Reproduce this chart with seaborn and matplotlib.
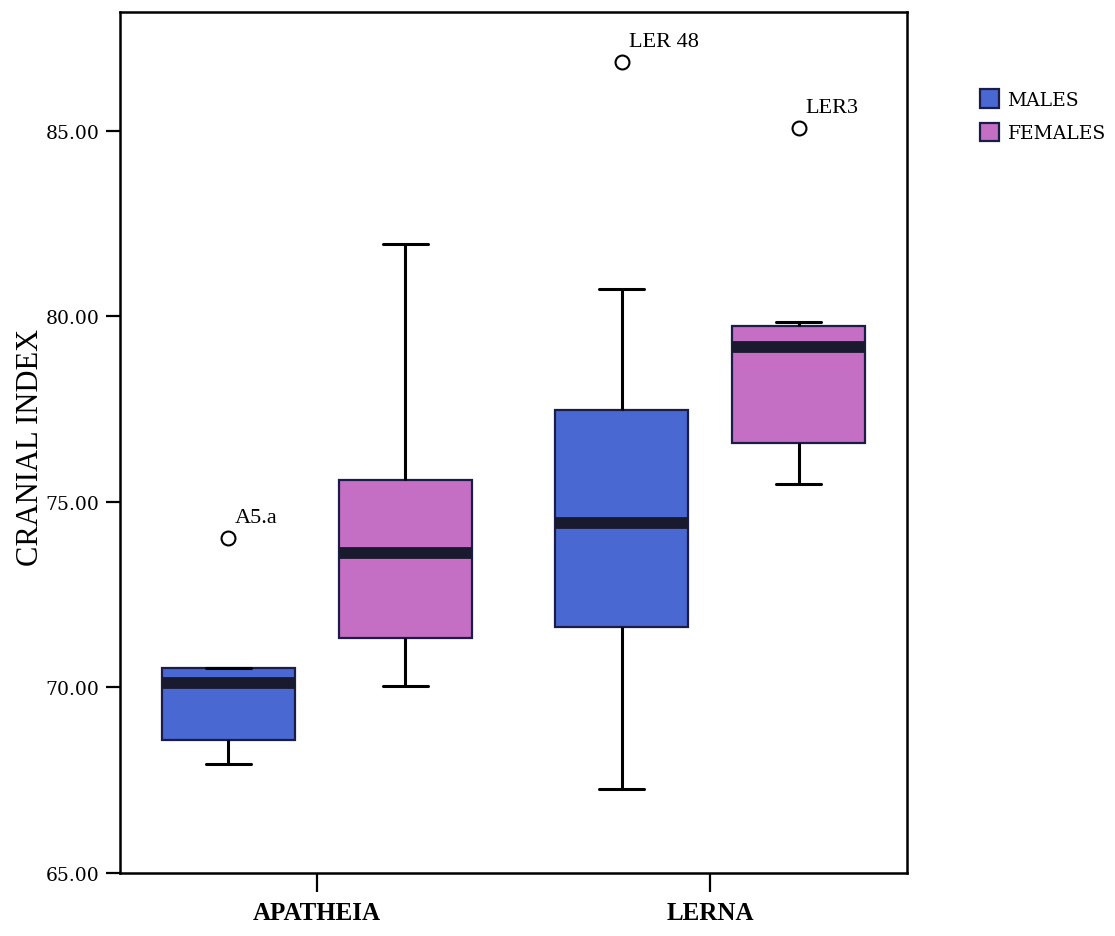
import numpy as np
import pandas as pd
import matplotlib
matplotlib.use("Agg")
import matplotlib.pyplot as plt
from matplotlib.patches import Patch
import seaborn as sns

# Sites and sexes
sites = ["APATHEIA", "LERNA"]
sexes = ["MALES", "FEMALES"]

# Five-number summaries (lower whisker, Q1, median, Q3, upper whisker)
apatheia_males = [67.94, 68.59, 70.13, 70.53, 70.53]
apatheia_females = [70.05, 71.34, 73.62, 75.58, 81.95]
lerna_males = [67.27, 71.64, 74.42, 77.47, 80.74]
lerna_females = [75.47, 76.58, 79.18, 79.74, 79.84]

# Outlying cases
outlier_site = ["APATHEIA", "LERNA", "LERNA"]
outlier_sex = ["MALES", "MALES", "FEMALES"]
outlier_value = [74.03, 86.86, 85.08]
outlier_label = ["A5.a", "LER 48", "LER3"]

y_ticks = [65.0, 70.0, 75.0, 80.0, 85.0]

summaries = {
    ("APATHEIA", "MALES"): apatheia_males,
    ("APATHEIA", "FEMALES"): apatheia_females,
    ("LERNA", "MALES"): lerna_males,
    ("LERNA", "FEMALES"): lerna_females,
}
rows = []
for (site, sex), vals in summaries.items():
    for v in vals:
        rows.append({"site": site, "sex": sex, "index": v})
df = pd.DataFrame(rows)

sns.set_style("white")
plt.rcParams["font.family"] = ["DejaVu Serif"]
plt.rcParams["text.color"] = "black"
plt.rcParams["axes.labelcolor"] = "black"
plt.rcParams["xtick.color"] = "black"
plt.rcParams["ytick.color"] = "black"

blue = "#4a68d2"
pink = "#c46fc3"
edge = "#1c1c48"

fig = plt.figure(figsize=(11.15, 9.37), dpi=100)
ax = fig.add_axes([0.1076, 0.0672, 0.7059, 0.9189])

sns.boxplot(
    data=df, x="site", y="index", hue="sex",
    order=sites, hue_order=sexes,
    palette={"MALES": blue, "FEMALES": pink},
    saturation=1, width=0.9, gap=0.25, whis=(0, 100),
    legend=False, ax=ax,
    boxprops=dict(edgecolor=edge, linewidth=1.6),
    whiskerprops=dict(color="black", linewidth=2.2),
    capprops=dict(color="black", linewidth=2.2),
    medianprops=dict(color="#1a1a2e", linewidth=8.5, solid_capstyle="butt"),
    capwidths=0.115,
)

# Outlying cases drawn at the centre of their own box
for site, sex, val, lab in zip(outlier_site, outlier_sex, outlier_value, outlier_label):
    cont = ax.containers[sexes.index(sex)]
    xm = np.mean(cont.medians[sites.index(site)].get_xdata())
    ax.plot([xm], [val], marker="o", markersize=10, markerfacecolor="white",
            markeredgecolor="black", markeredgewidth=1.5, linestyle="none", zorder=5)
    ax.annotate(lab, (xm, val), xytext=(5, 8), textcoords="offset points",
                fontsize=16, family="Liberation Serif", va="bottom", ha="left")

ax.set_xlim(-0.5, 1.5)
ax.set_ylim(65, 88.2)
ax.set_yticks(y_ticks)
ax.set_yticklabels([f"{t:.2f}" for t in y_ticks])
ax.tick_params(axis="y", which="major", length=10, width=1.6, direction="out",
               left=True, labelsize=13.5, pad=5, color="black", labelcolor="black")
ax.tick_params(axis="x", which="major", length=14, width=1.6, direction="out",
               bottom=True, pad=6, color="black", labelcolor="black")
for lab in ax.get_xticklabels():
    lab.set_fontfamily("Liberation Serif")
    lab.set_fontweight("bold")
    lab.set_fontsize(18)

ax.set_xlabel("")
ax.set_ylabel("CRANIAL INDEX", fontsize=22, family="Liberation Serif", color="black")
ax.yaxis.set_label_coords(-0.095, 0.495)

for sp in ax.spines.values():
    sp.set_visible(True)
    sp.set_color("black")
    sp.set_linewidth(1.8)

handles = [Patch(facecolor=blue, edgecolor=edge, linewidth=1.6, label="MALES"),
           Patch(facecolor=pink, edgecolor=edge, linewidth=1.6, label="FEMALES")]
fig.legend(handles=handles, loc="upper left", bbox_to_anchor=(0.8725, 0.912),
           frameon=False, fontsize=13.5, handlelength=1.0, handleheight=1.15,
           handletextpad=0.45, labelspacing=0.75, borderaxespad=0,
           labelcolor="black")

fig.savefig("out.png", dpi=100)
